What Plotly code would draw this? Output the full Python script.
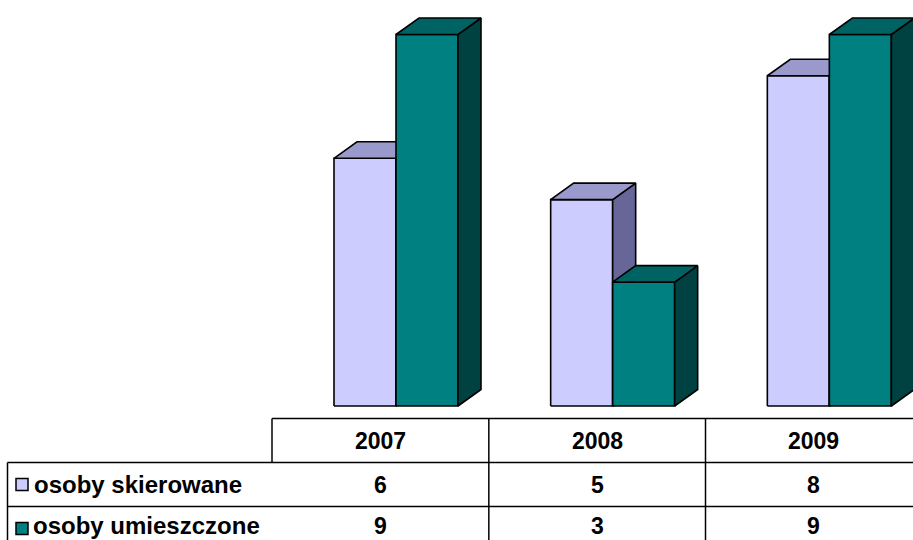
import plotly.graph_objects as go

# ---------------- data ----------------
years = ["2007", "2008", "2009"]
series_names = ["osoby skierowane", "osoby umieszczone"]
skierowane = [6, 5, 8]
umieszczone = [9, 3, 9]

# ---------------- style ----------------
W, H = 913, 540
front_colors = ["#CCCCFF", "#008080"]
top_colors = ["#9999CC", "#006363"]
side_colors = ["#666699", "#004242"]
FONT = "Liberation Sans, Arial, sans-serif"

# axis geometry (category index on x, value on y)
px_per_x = 216.67
x0_px = 380.5
xr = [-x0_px / px_per_x, (W - x0_px) / px_per_x]
px_per_y = 41.28
base_px = 406
ymin = -(H - base_px) / px_per_y
yr = [ymin, ymin + H / px_per_y]

bar_w = 62 / px_per_x
left_off = [-46.5 / px_per_x, 15.5 / px_per_x]
dx = 23 / px_per_x
dy = 16.5 / px_per_y

def px(x):
    return x / W

def py(y):
    return 1 - y / H

fig = go.Figure()

series_vals = [skierowane, umieszczone]

def poly(xs, ys, color):
    fig.add_trace(go.Scatter(
        x=xs, y=ys, mode="lines", fill="toself", fillcolor=color,
        line=dict(color="black", width=1.6), hoverinfo="skip", showlegend=False))

for i, _ in enumerate(years):
    for s, vals in enumerate(series_vals):
        v = vals[i]
        a = i + left_off[s]
        b = a + bar_w
        # front
        poly([a, b, b, a, a], [0, 0, v, v, 0], front_colors[s])
        # side
        poly([b, b + dx, b + dx, b, b], [0, dy, v + dy, v, 0], side_colors[s])
        # top
        poly([a, b, b + dx, a + dx, a], [v, v, v + dy, v + dy, v], top_colors[s])

# ---------------- data table ----------------
shapes = []
line = dict(color="black", width=1.5)
def hline(y, xa, xb):
    shapes.append(dict(type="line", xref="paper", yref="paper",
                       x0=px(xa), x1=px(xb), y0=py(y), y1=py(y), line=line))
def vline(x, ya, yb):
    shapes.append(dict(type="line", xref="paper", yref="paper",
                       x0=px(x), x1=px(x), y0=py(ya), y1=py(yb), line=line))

row_top, row1, row2, row_bot = 418.5, 462.5, 506.5, 545
hline(row_top, 272, W)
hline(row1, 7.5, W)
hline(row2, 7.5, W)
vline(272, row_top, row1)
vline(7.5, row1, row_bot)
for i in range(1, len(years)):
    xc = x0_px + px_per_x * (i - 0.5)
    vline(xc, row_top, row_bot)

row_centers = [(row_top + row1) / 2, (row1 + row2) / 2, (row2 + row2 + 44) / 2]

def row_pos(r):
    # last row touches the bottom edge: anchor its text box to the bottom
    if r == 2:
        return dict(y=0, yanchor="bottom", borderpad=0)
    return dict(y=py(row_centers[r]), yanchor="middle")

annotations = []
for i, yl in enumerate(years):
    annotations.append(dict(x=i, xref="x", yref="paper", text=yl, showarrow=False,
                            xanchor="center", **row_pos(0),
                            font=dict(family=FONT, size=23, color="black", weight="bold")))
    for s, vals in enumerate(series_vals):
        annotations.append(dict(x=i, xref="x", yref="paper", text=str(vals[i]),
                                showarrow=False, xanchor="center", **row_pos(s + 1),
                                font=dict(family=FONT, size=23, color="black", weight="bold")))

for s, name in enumerate(series_names):
    yc = row_centers[s + 1]
    shapes.append(dict(type="rect", xref="paper", yref="paper",
                       x0=px(16), x1=px(28), y0=py(yc - 6), y1=py(yc + 6),
                       fillcolor=front_colors[s], line=dict(color="black", width=1.5)))
    annotations.append(dict(x=px(32), xref="paper", yref="paper", text=name,
                            showarrow=False, xanchor="left", **row_pos(s + 1),
                            font=dict(family=FONT, size=24, color="black", weight="bold")))

fig.update_layout(
    width=W, height=H,
    margin=dict(l=0, r=0, t=0, b=0),
    paper_bgcolor="white", plot_bgcolor="white",
    xaxis=dict(range=xr, visible=False, showgrid=False, zeroline=False, fixedrange=True),
    yaxis=dict(range=yr, visible=False, showgrid=False, zeroline=False, fixedrange=True),
    shapes=shapes, annotations=annotations, showlegend=False,
)

fig.write_html(
    "out.html",
    config={"displayModeBar": False},
    post_script="document.body.style.margin='0';document.body.style.padding='0';document.body.style.overflow='hidden';",
)
